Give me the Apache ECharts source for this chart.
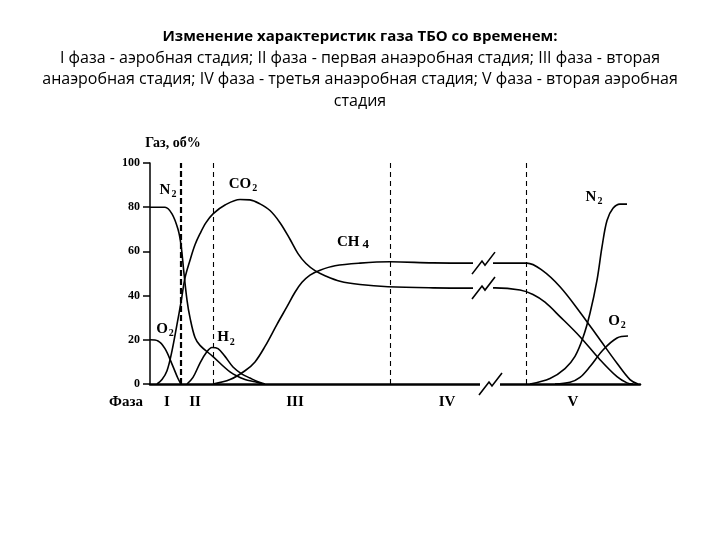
<!DOCTYPE html>
<html><head><meta charset="utf-8">
<script src="https://cdn.jsdelivr.net/npm/echarts@6/dist/echarts.min.js"></script>
<style>html,body{margin:0;padding:0;background:#fff}#c{width:720px;height:540px}</style>
</head><body><div id="c"></div>
<script>
// time axis in arbitrary units (0..490), gas content in vol.%
const yTicks = [0, 20, 40, 60, 80, 100];
const phaseBounds = [31, 63, 240, 376];
const breakPoints = [[333, 54.7], [333, 43.4], [340, 0]];

const o2PhaseI = [[0,20],[8,19.5],[15,16],[22,9],[28,2.5],[31,0]];
const n2PhaseI = [[0,80],[15,80],[22,77],[28,70],[31,63],[34,50],[37,38],[40,30],[45,21],[50,17.5],[63,12.4],[80,5.5],[95,2],[105,1],[113,0]];
const co2 = [[7,0],[12,2],[17,6],[22,15],[27,27],[31,37],[35,48],[40,56],[45,63],[50,68],[56,73],[63,77],[75,81],[90,83.5],[100,83.3],[110,81.5],[120,78.5],[130,73],[140,65.5],[148,59],[156,54.5],[165,51.3],[175,49],[190,46.5],[210,45],[238,44],[283,43.5],[325,43.4],[345,43.5],[370,42.5],[383,40.5],[395,37],[410,30.5],[430,21.4],[450,11],[467,3.3],[477,0.5],[483,0]];
const ch4 = [[63,0],[80,2],[95,6],[105,10],[115,17],[127,27],[137,35],[145,41.5],[152,46],[160,49.3],[170,51.5],[185,53.5],[210,54.7],[240,55.3],[283,54.8],[325,54.7],[345,54.7],[377,54.7],[392,51.5],[410,44],[430,32.5],[450,20],[467,9.4],[480,2],[488,0]];
const h2 = [[37,0],[43,3],[50,9.5],[56,14],[62,16.5],[68,16],[75,12.5],[83,7.7],[92,4.5],[100,2.7],[108,1],[115,0]];
const n2PhaseV = [[380,0],[400,2.5],[415,7],[425,12.5],[433,21],[440,32],[447,47],[452,62],[457,74],[463,79.5],[470,81.4],[477,81.4]];
const o2PhaseV = [[405,0],[420,0.8],[430,3],[440,7.9],[453,15.4],[467,20.8],[478,21.7]];

const gasNames = ['N{s|2}', 'CO{s|2}', 'CH{c|4}', 'O{s|2}', 'H{s|2}', 'N{s|2}', 'O{s|2}'];
const gasAnchors = [[18,87.8],[93,90.5],[203,64],[15,25],[76,21],[444,84.6],[467,28.5]];
const phaseNames = ['Фаза', 'I', 'II', 'III', 'IV', 'V'];
const phaseAnchors = [[-24,-8],[17,-8],[45,-8],[145,-8],[297,-8],[423,-8]];
const axisTitle = 'Газ, об%';
const axisTitleAnchor = [23, 109];

const titleText = 'Изменение характеристик газа ТБО со временем:';
const subLines = [
  'I фаза - аэробная стадия; II фаза - первая анаэробная стадия; III фаза - вторая',
  'анаэробная стадия; IV фаза - третья анаэробная стадия; V фаза - вторая аэробная',
  'стадия'
];

const SERIF = '"Liberation Serif", "DejaVu Serif", serif';
const SANS = '"Open Sans", sans-serif';
const chart = echarts.init(document.getElementById('c'));

function curve(data) {
  return {
    type: 'line', data: data, smooth: 0.35, symbol: 'none',
    lineStyle: { color: '#000', width: 1.6 }, silent: true, clip: false, z: 3
  };
}

const series = [o2PhaseI, n2PhaseI, co2, ch4, h2, n2PhaseV, o2PhaseV].map(curve);
series[0].markLine = {
  symbol: 'none', silent: true, label: { show: false },
  data: phaseBounds.map((b, i) => ({
    xAxis: b,
    lineStyle: { color: '#000', type: i === 0 ? [6, 3] : [5, 4], width: i === 0 ? 2.2 : 1.1 }
  }))
};
series.push({
  type: 'custom', data: breakPoints, z: 5, silent: true, clip: false,
  renderItem: function (params, api) {
    const p = api.coord([api.value(0), api.value(1)]);
    return {
      type: 'group', x: p[0], y: p[1], children: [
        { type: 'rect', shape: { x: -10, y: -5, width: 20, height: 10 }, style: { fill: '#fff' } },
        { type: 'polyline', shape: { points: [[-11, 11], [-1, -2], [2, 2], [12, -11]] },
          style: { stroke: '#000', lineWidth: 1.6, fill: null } }
      ]
    };
  }
});

chart.setOption({
  animation: false,
  backgroundColor: '#fff',
  grid: { left: 150, right: 80, top: 163, bottom: 156 },
  xAxis: {
    type: 'value', min: 0, max: 490,
    axisLine: { show: true, onZero: false, lineStyle: { color: '#000', width: 2.5 } },
    axisTick: { show: false }, axisLabel: { show: false }, splitLine: { show: false }
  },
  yAxis: {
    type: 'value', min: yTicks[0], max: yTicks[yTicks.length - 1], interval: 20,
    axisLine: { show: true, lineStyle: { color: '#000', width: 1.5 } },
    axisTick: { show: true, length: 7, lineStyle: { color: '#000', width: 1.5 } },
    axisLabel: { color: '#000', fontFamily: SERIF, fontWeight: 'bold', fontSize: 12, margin: 10,
      formatter: v => yTicks.includes(v) ? String(v) : '' },
    splitLine: { show: false }
  },
  series: series
});

const rich = {
  s: { fontFamily: SERIF, fontWeight: 'bold', fontSize: 10, padding: [9, 0, 0, 1], color: '#000' },
  c: { fontFamily: SERIF, fontWeight: 'bold', fontSize: 13, padding: [5, 0, 0, 3], color: '#000' }
};
const graphics = [];
graphics.push({ type: 'text', x: 360, y: 37, z: 10, silent: true,
  style: { text: titleText, fill: '#000', fontFamily: SANS, fontWeight: 'bold', fontSize: 15,
    align: 'center', verticalAlign: 'middle' } });
subLines.forEach((t, i) => {
  graphics.push({ type: 'text', x: 360, y: 58 + i * 21.5, z: 10, silent: true,
    style: { text: t, fill: '#000', fontFamily: SANS, fontSize: 16,
      align: 'center', verticalAlign: 'middle' } });
});
gasNames.forEach((t, i) => {
  const p = chart.convertToPixel({ gridIndex: 0 }, gasAnchors[i]);
  graphics.push({ type: 'text', x: p[0], y: p[1], z: 10, silent: true,
    style: { text: t, rich: rich, fill: '#000', fontFamily: SERIF, fontWeight: 'bold', fontSize: 15,
      align: 'center', verticalAlign: 'middle' } });
});
phaseNames.forEach((t, i) => {
  const p = chart.convertToPixel({ gridIndex: 0 }, phaseAnchors[i]);
  graphics.push({ type: 'text', x: p[0], y: p[1], z: 10, silent: true,
    style: { text: t, fill: '#000', fontFamily: SERIF, fontWeight: 'bold', fontSize: 15,
      align: 'center', verticalAlign: 'middle' } });
});
{
  const p = chart.convertToPixel({ gridIndex: 0 }, axisTitleAnchor);
  graphics.push({ type: 'text', x: p[0], y: p[1], z: 10, silent: true,
    style: { text: axisTitle, fill: '#000', fontFamily: SERIF, fontWeight: 'bold', fontSize: 14,
      align: 'center', verticalAlign: 'middle' } });
}
chart.setOption({ graphic: graphics });
</script>
</body></html>
